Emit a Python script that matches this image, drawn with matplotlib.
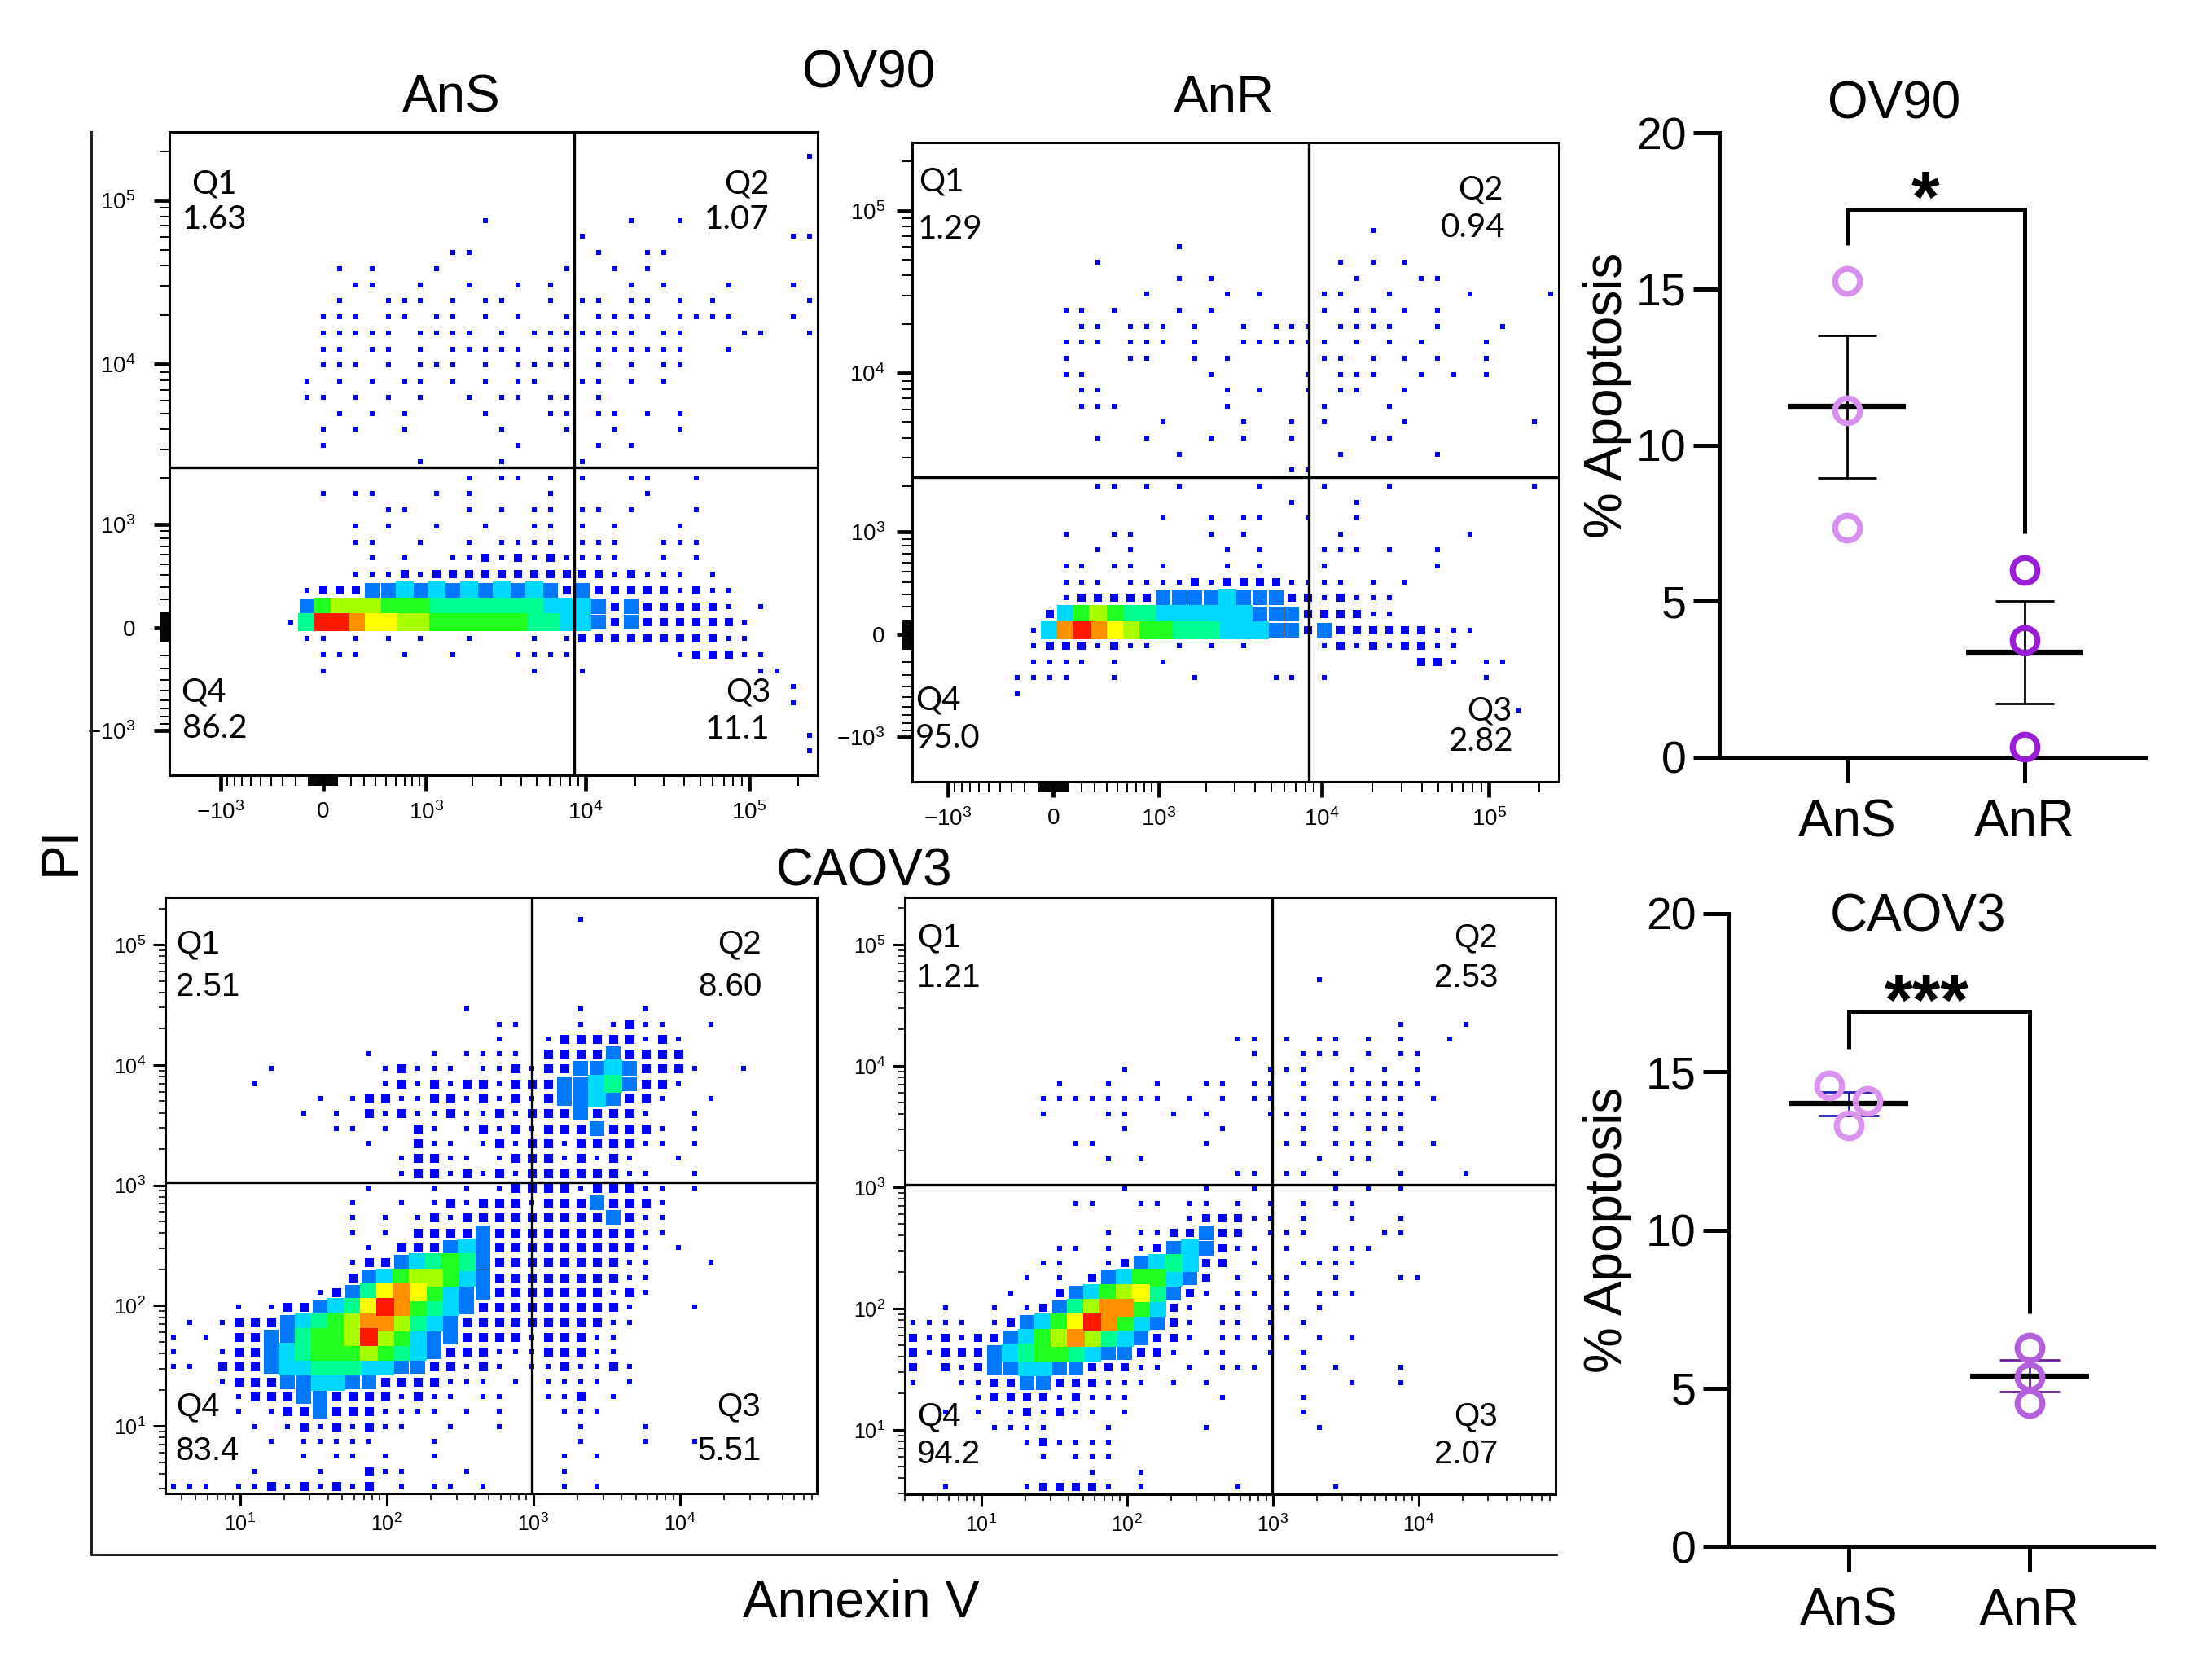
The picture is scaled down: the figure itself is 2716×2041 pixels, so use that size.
import numpy as np
import matplotlib.pyplot as plt
from matplotlib.lines import Line2D
from matplotlib.ticker import FixedLocator, FuncFormatter, NullFormatter, LogLocator

plt.rcParams['font.family'] = ['Liberation Sans', 'DejaVu Sans']

W, H = 2716, 2041
fig = plt.figure(figsize=(W / 100, H / 100), dpi=100)

# ---------------- data ----------------
groups = ['AnS', 'AnR']
ov90_ans = [15.25, 11.1, 7.35]
ov90_anr = [6.0, 3.75, 0.33]
caov3_ans = [14.58, 14.08, 13.32]
caov3_anr = [6.28, 5.36, 4.52]
caov3_ans_jitter = [-0.11, 0.105, 0.0]
ov90_bracket = [16.4, 17.55, 7.17]
caov3_bracket = [15.74, 16.9, 7.37]

# quadrant percentages: Q1, Q2, Q3, Q4
ov90_ans_q = ['1.63', '1.07', '11.1', '86.2']
ov90_anr_q = ['1.29', '0.94', '2.82', '95.0']
caov3_ans_q = ['2.51', '8.60', '5.51', '83.4']
caov3_anr_q = ['1.21', '2.53', '2.07', '94.2']

# quadrant gates (Annexin V, PI)
ov90_ans_gate = (8500, 2330)
ov90_anr_gate = (8365, 2262)
caov3_ans_gate = (980, 1050)
caov3_anr_gate = (990, 1050)

# event density, 40 x 40 bins over each plot range
# '.' none, ':' single event, '1'..'9' low -> high density
ov90_ans_grid = [
    ".......... .......... .......... ..........",
    ".......... .......... .......... .........:",
    ".......... .......... .......... ..........",
    ".......... .......... .......... ..........",
    ".......... .......... .......... ..........",
    ".......... .........: ........:. .:........",
    ".......... .......... .....:.... ........::",
    ".......... .......::. ......:..: :.........",
    ".......... :.:...:... ....:..:.: ..........",
    ".......... .::..:..:. .:.:....:. :...:...:.",
    ".......... :..:::.:.: :..:.::.:: .:.:.....:",
    ".........: ::.::.::.: .:..:.:::: .::::...:.",
    ".........: ::::.::::. :.:::::::. ::...::..:",
    ".........: :.::.:.::: ::.::.:::: ::..:.....",
    ".........: ::.:.:::.: .::::.:.:. ::........",
    "........:. :.:.::.:.: .::..::.:. :.........",
    "........:: .:.:.:..:. ::.::.:... ..........",
    ".......... :.:.:....: ...::.::.: .:........",
    ".........: .:..:..... :...:..:.. .:........",
    ".........: .......... .:....:.:. ..........",
    ".......... .....:.... :....:.... ..........",
    ".......... ........:. ::.:.:..:: ..:.......",
    ".........: .::...:.:. ...:.....: ..........",
    ".......... ...::...:. :.::.::.:. ..:.......",
    ".......... .:.:..:..: ..::.:.:.. .:........",
    ".......... .::..:..:. ::::.:::.. :::.......",
    ".......... ..:.:..::1 :1:1::::.. :.:.......",
    ".......... .:::1:1111 1111111:1: ::.:......",
    "........:1 1122323232 3232121111 1:1::.....",
    "........25 6665554444 4443332121 1111:.:...",
    ".......:49 9877665555 5544332121 11111:....",
    "........:: .:.:.:..:. ..:.:11111 1111::....",
    ".........: ::..:..:.. .::::..... .:111::...",
    ".........: .......... ..:..:.... ......::..",
    ".......... .......... .......... ........:.",
    ".......... .......... .......... ........:.",
    ".......... .......... .......... ..........",
    ".......... .......... .......... .........:",
    ".......... .......... .......... .........:",
    ".......... .......... .......... ..........",
]

ov90_anr_grid = [
    ".......... .......... .......... ..........",
    ".......... .......... .......... ..........",
    ".......... .......... .......... ..........",
    ".......... .......... .......... ..........",
    ".......... .......... .......... ..........",
    ".......... .......... ........:. ..........",
    ".......... ......:... .......... ..........",
    ".......... .:........ ......:.:. :.........",
    ".......... ......:.:. .......:.. .::.......",
    ".......... ....:....: .:...::..: ....:....:",
    ".........: :.:...:.:. .....:.::. :.:.......",
    ".......... ::.:::.:.. :.:::.:::: ..:...:...",
    ".........: ::.:::.:.. ::::::.:.: .:...:....",
    ".........: ...::..:.: .....::.:. :.:..:....",
    ".........: :.......:. ....:.:::. .:.:.:....",
    ".......... ::.......: .:..:.::.. :.........",
    ".......... :::......: .....:...: ..........",
    ".......... .....:.... :..:.:.... :.......:.",
    ".......... .:..:...:. :..:....:: ..........",
    ".......... ......:... ......:... ..:.......",
    ".......... .......... ...::..... ..........",
    ".......... .::.:.:... .:...:...: ........:.",
    ".......... .......... ...:...:.. ..........",
    ".......... .....:..:. ::..:..:.. ..........",
    ".........: ..::....:. :.....:... ....:.....",
    ".......... .:.:.....: .:...:::.: ..:.......",
    ".........: :.::.:...: .:...:.... ..:.......",
    ".........: ::.::::1:1 111::::.:. :.........",
    ".........: 1111122223 22211:1::: ..........",
    "........13 5654433333 32221111:: ..........",
    ".......:38 9876554443 3322121111 11:::.....",
    ".......:11 1:1::.:.:. :....:1:1: 11::......",
    ".......::: :.:..:.... .......... .11:.::...",
    "......:::: ..:....:.. ..::.:.... .....:....",
    "......:... .......... .......... ..........",
    ".......... .......... .......... .......:..",
    ".......... .......... .......... ..........",
    ".......... .......... .......... ..........",
    ".......... .......... .......... ..........",
    ".......... .......... .......... ..........",
]

caov3_ans_grid = [
    ".......... .......... .......... ..........",
    ".......... .......... .....:.... ..........",
    ".......... .......... .......... ..........",
    ".......... .......... .......... ..........",
    ".......... .......... .......... ..........",
    ".......... .......... .......... ..........",
    ".......... .......... .......... ..........",
    ".......... ........:. .....:...: ..........",
    ".......... .......... ::...:.:1: :..:......",
    ".......... .......... :..:11111: 1:........",
    ".......... ..:...:.:: ::.1111211 11........",
    "......:... ...:1:::.: :1:1122321 11:..:....",
    ".....:.... ...:1:1:11 :111223421 1:........",
    ".........: .:11::11:1 :1:1223211 :..:......",
    "........:. :.1:1::1:: 1:1112111: ..:.......",
    ".......... ::.:.1:.:1 :1:1112111 :.:.......",
    ".......... ..:..1::.: 1:11:1111: :.:.......",
    ".......... ....:11::. :111:1:1:. .:........",
    ".......... ....:11:1: 1:111111:: ..:.......",
    ".......... ..:...:.:. :1111:111: :.:.......",
    ".......... .:..:.:1:1 11:1112111 :.........",
    ".......... .:.:.:1:11 111111121: :.........",
    ".......... .:.:.11112 111111111: :.........",
    ".......... ..:.111232 111111111: .:........",
    ".......... .:11234542 11111111:: ...:......",
    ".......... .123566532 11111111:: ..........",
    ".........: 1247875322 1111111:1: ..........",
    "....:.:112 3479854321 11111111:. ..:.......",
    ".:.:111234 5688643211 1111111::. ..........",
    ":.:.112245 5696532211 11:111::.. ..........",
    ":..:112345 5565432111 :::111::.. ..........",
    "::.1112334 44332211:1 :.::1::1:. ..........",
    "...:111223 3221111::: .:.::::.:. ..........",
    "....:11122 1111:1::.: :..::1.:.. ..........",
    "....:.:112 111::::.:. :...:::... ..........",
    ".....:.:1: 1:1::..:.. :....:...: ..........",
    "......:.:: :::...:... .....:...: ..:.......",
    "........:. ::.:..:... ....:.:... ..........",
    ".....:...: ..1::...:. ....:..... ..........",
    ":::.::1:1: 1:1.:.::.: ....:.:... ..........",
]

caov3_anr_grid = [
    ".......... .......... .......... ..........",
    ".......... .......... .......... ..........",
    ".......... .......... .......... ..........",
    ".......... .......... .......... ..........",
    ".......... .......... .......... ..........",
    ".......... .......... .....:.... ..........",
    ".......... .......... .......... ..........",
    ".......... .......... .......... ..........",
    ".......... .......... .......... :...:.....",
    ".......... .......... ::.:.::.:. :..:......",
    ".......... .......... .:..:::.:. ::........",
    ".......... ...:...... ..:::..:.: .:........",
    ".........: ..:..:..:: .::.:.:::: ::........",
    "........:: ::::::.:.: .::.:.:.:: :.:.......",
    "........:. ..::..:.:. ..:::.:::: :.........",
    ".......... ...:.....: ....:.:.:: :.........",
    ".......... ::......:. ...::.:::. :.:.......",
    ".......... ..:.:..... .....:.::. ..........",
    ".......... .......... ::.::.:... :...:.....",
    ".......... ...:....:. .:....:.:. :.........",
    ".......... ::..::.::. :.:.:.::.. ..........",
    ".......... .......:11 1::.:..:.. :.........",
    ".......... ..:.::1121 1.:::....: :.........",
    ".........: :.:.:12321 ::.:..:::. ..........",
    "........:: ..:1234311 .:..::::.. ..........",
    ".......:.: .12355321. :.::..:... ::........",
    "......:..1 23567421:. ::.:.:::.. ..........",
    "..:..:.:12 4688531:.: :.::.:.... ..........",
    "::::.:1235 7985321:.: :.:.:..... ..........",
    "1:1:112356 8643211:.: ::::.:.:.. ..........",
    "1:11123455 432211:.:: ..:.:..... ..........",
    "1.1:122332 2111::.:.: ::..:.:... :.........",
    ":..::11221 11:::.:.:. .......:.. :.........",
    "....:1111: 1:::.....: ....:..... ..........",
    "..:.:.:1:1 ::.:...... ....:..... ..........",
    ".....::::. ..:.....:. .....:.... ..........",
    ".......:1: :::....... .......... ..........",
    "........:. :::....... .......... ..........",
    ".......... .:..:..... .......... ..........",
    "..:....:11 11:.:..... :.....:... ..........",
]

level_colors = {':': '#0000ff', '1': '#0000ff', '2': '#0078ff', '3': '#00d8ff',
                '4': '#00ff90', '5': '#20ff20', '6': '#a8ff00', '7': '#ffff00',
                '8': '#ff9000', '9': '#ff1800'}
level_size = {':': 0.28, '1': 0.55, '2': 0.9}

# ---------------- helpers ----------------
def box(x0, y0, x1, y1):
    return [x0 / W, 1 - y1 / H, (x1 - x0) / W, (y1 - y0) / H]


C = 497.0


def fwd(v):
    return np.arcsinh(np.asarray(v, dtype=float) / C)


def inv(v):
    return C * np.sinh(np.asarray(v, dtype=float))


def biex_fmt(v, pos):
    if v == 0:
        return '0'
    e = int(round(np.log10(abs(v))))
    s = '-' if v < 0 else ''
    return r'$\mathdefault{%s10^{%d}}$' % (s, e)


def draw_events(ax, grid):
    rows = [r.replace(' ', '').ljust(40, '.')[:40] for r in grid]
    nr, nc = len(rows), 40
    pos = ax.get_position()
    cell_pt = max(pos.width * W / nc, pos.height * H / nr) * 0.72
    to_data = ax.transData.inverted()
    pts = {}
    for i, row in enumerate(rows):
        for j, c in enumerate(row):
            if c in level_colors:
                pts.setdefault(c, []).append(((j + 0.5) / nc, 1 - (i + 0.5) / nr))
    for c in ':123456789':
        if c not in pts:
            continue
        xy = to_data.transform(ax.transAxes.transform(np.array(pts[c])))
        side = cell_pt * level_size.get(c, 1.06)
        ax.scatter(xy[:, 0], xy[:, 1], s=side ** 2, marker='s', c=level_colors[c],
                   linewidths=0, zorder=2)


def flow_panel(rect, kind, xlim, ylim, gate, grid, quads, qpos, qfont, ylab_pad):
    ax = fig.add_axes(rect)
    if kind == 'biex':
        ax.set_xscale('function', functions=(fwd, inv))
        ax.set_yscale('function', functions=(fwd, inv))
        major = [-1e3, 0, 1e3, 1e4, 1e5]
        minor = (list(range(-900, 0, 100)) + list(range(-90, 0, 10)) + list(range(10, 100, 10))
                 + list(range(100, 1000, 100)) + list(range(2000, 10000, 1000))
                 + list(range(20000, 100000, 10000)) + [200000])
        for axis in (ax.xaxis, ax.yaxis):
            axis.set_major_locator(FixedLocator(major))
            axis.set_minor_locator(FixedLocator(minor))
            axis.set_major_formatter(FuncFormatter(biex_fmt))
            axis.set_minor_formatter(NullFormatter())
        ax.tick_params(which='major', length=14, width=3.4, labelsize=20)
        ax.tick_params(which='minor', length=9, width=1.4)
        ax.tick_params(axis='x', which='major', pad=9)
        ax.tick_params(axis='y', which='major', pad=ylab_pad)
    else:
        ax.set_xscale('log')
        ax.set_yscale('log')
        ax.xaxis.set_major_locator(FixedLocator([1e1, 1e2, 1e3, 1e4]))
        ax.yaxis.set_major_locator(FixedLocator([1e1, 1e2, 1e3, 1e4, 1e5]))
        for axis in (ax.xaxis, ax.yaxis):
            axis.set_minor_locator(LogLocator(subs=np.arange(2, 10)))
            axis.set_minor_formatter(NullFormatter())
        ax.tick_params(which='major', length=11, width=2.2, labelsize=18)
        ax.tick_params(which='minor', length=6, width=1.2)
        ax.tick_params(axis='x', which='major', pad=7)
        ax.tick_params(axis='y', which='major', pad=ylab_pad)
    ax.set_xlim(xlim)
    ax.set_ylim(ylim)
    ax.tick_params(direction='out', top=False, right=False)
    for s in ax.spines.values():
        s.set_linewidth(2.2)
    draw_events(ax, grid)
    ax.axvline(gate[0], color='k', lw=2.4, zorder=3)
    ax.axhline(gate[1], color='k', lw=2.4, zorder=3)
    labels = ['Q1', 'Q2', 'Q3', 'Q4']
    for k in range(4):
        (qx, qy), (vx, vy) = qpos[k]
        ha = 'left' if k in (0, 3) else 'right'
        ax.text(qx, qy, labels[k], transform=ax.transAxes, ha=ha, va='baseline',
                fontsize=29, family=qfont, zorder=4)
        ax.text(vx, vy, quads[k], transform=ax.transAxes, ha=ha, va='baseline',
                fontsize=29, family=qfont, zorder=4)
    return ax


def dot_panel(rect, xlim, s_vals, r_vals, s_jit, s_col, r_col, s_err, r_err, bracket, stars, star_x):
    ax = fig.add_axes(rect)
    ax.set_xlim(xlim)
    ax.set_ylim(0, 20)
    ax.spines[['top', 'right']].set_visible(False)
    for s in ('left', 'bottom'):
        ax.spines[s].set_linewidth(3.6)
    ax.set_yticks([0, 5, 10, 15, 20])
    ax.set_xticks([0, 1], groups)
    ax.tick_params(axis='y', length=23, width=3.6, labelsize=40, pad=6)
    ax.tick_params(axis='x', length=22, width=3.6, labelsize=46, pad=14)
    for x, vals, jit, col, ecol in ((0, s_vals, s_jit, s_col, s_err), (1, r_vals, [0, 0, 0], r_col, r_err)):
        v = np.array(vals)
        m = v.mean()
        sem = v.std(ddof=1) / np.sqrt(len(v))
        ax.vlines(x, m - sem, m + sem, color=ecol, lw=2.0, zorder=2)
        ax.hlines([m - sem, m + sem], x - 0.165, x + 0.165, color=ecol, lw=2.0, zorder=2)
        ax.hlines(m, x - 0.33, x + 0.33, color='k', lw=4.5, zorder=3)
        ax.plot(x + np.array(jit), v, 'o', ms=22, mew=5.2, mfc='none', mec=col,
                zorder=4, clip_on=False)
    ax.plot([0, 0, 1, 1], [bracket[0], bracket[1], bracket[1], bracket[2]], color='k',
            lw=3.6, solid_joinstyle='miter', solid_capstyle='butt')
    ax.text(star_x, bracket[1] - 0.4, stars, ha='center', va='baseline', fontsize=64,
            fontweight='bold')
    return ax


# ---------------- flow panels ----------------
flow_panel(box(208, 162, 1004, 952), 'biex', (-2140, 262144), (-1950, 262144), ov90_ans_gate,
           ov90_ans_grid, ov90_ans_q,
           [((0.034, 0.905), (0.020, 0.849)), ((0.926, 0.905), (0.925, 0.849)),
            ((0.928, 0.114), (0.926, 0.057)), ((0.018, 0.115), (0.020, 0.058))], 'Lato', 16)
flow_panel(box(1120, 175, 1914, 960), 'biex', (-1700, 262144), (-1965, 262144), ov90_anr_gate,
           ov90_anr_grid, ov90_anr_q,
           [((0.010, 0.924), (0.009, 0.850)), ((0.914, 0.912), (0.917, 0.852)),
            ((0.927, 0.096), (0.929, 0.048)), ((0.005, 0.113), (0.005, 0.053))], 'Lato', 10)
flow_panel(box(203, 1102, 1003, 1834), 'log', (3.1, 8.6e4), (2.75, 2.47e5), caov3_ans_gate,
           caov3_ans_grid, caov3_ans_q,
           [((0.016, 0.907), (0.016, 0.835)), ((0.915, 0.907), (0.916, 0.835)),
            ((0.913, 0.131), (0.915, 0.056)), ((0.016, 0.131), (0.015, 0.056))], 'Liberation Sans', 6)
flow_panel(box(1111, 1102, 1910, 1835), 'log', (3.0, 8.7e4), (2.95, 2.45e5), caov3_anr_gate,
           caov3_anr_grid, caov3_anr_q,
           [((0.019, 0.917), (0.019, 0.850)), ((0.911, 0.917), (0.912, 0.850)),
            ((0.911, 0.116), (0.912, 0.052)), ((0.019, 0.116), (0.018, 0.052))], 'Liberation Sans', 6)

# frame around the flow block
fig.add_artist(Line2D([112 / W, 112 / W, 1911 / W], [1 - 162 / H, 1 - 1909 / H, 1 - 1909 / H],
                      transform=fig.transFigure, color='#222222', lw=2.2))

fig.text(554 / W, 1 - 137 / H, 'AnS', ha='center', va='baseline', fontsize=46)
fig.text(1067 / W, 1 - 107 / H, 'OV90', ha='center', va='baseline', fontsize=46)
fig.text(1503 / W, 1 - 138 / H, 'AnR', ha='center', va='baseline', fontsize=46)
fig.text(1061 / W, 1 - 1087 / H, 'CAOV3', ha='center', va='baseline', fontsize=46)
fig.text(1057 / W, 1 - 1985 / H, 'Annexin V', ha='center', va='baseline', fontsize=46)
fig.text(75 / W, 1 - 1045 / H, 'PI', ha='center', va='center', rotation=90, fontsize=46)

# ---------------- % apoptosis panels ----------------
dot_panel(box(2111, 163, 2634, 930), (-0.72, 1.679), ov90_ans, ov90_anr, [0, 0, 0],
          '#d98ff0', '#9b1ed7', 'k', 'k', ov90_bracket, '*', 0.44)
dot_panel(box(2123, 1122, 2644, 1899), (-0.662, 1.685), caov3_ans, caov3_anr, caov3_ans_jitter,
          '#dc92f0', '#b45fdc', '#1c1cb4', '#6a1b9a', caov3_bracket, '***', 0.43)

fig.text(2326 / W, 1 - 146 / H, 'OV90', ha='center', va='baseline', fontsize=46)
fig.text(2355 / W, 1 - 1144 / H, 'CAOV3', ha='center', va='baseline', fontsize=46)
fig.text(1974 / W, 1 - 485 / H, '% Apoptosis', ha='center', va='center', rotation=90, fontsize=46)
fig.text(1974 / W, 1 - 1510 / H, '% Apoptosis', ha='center', va='center', rotation=90, fontsize=46)

fig.savefig('out.png', dpi=100, facecolor='white')
